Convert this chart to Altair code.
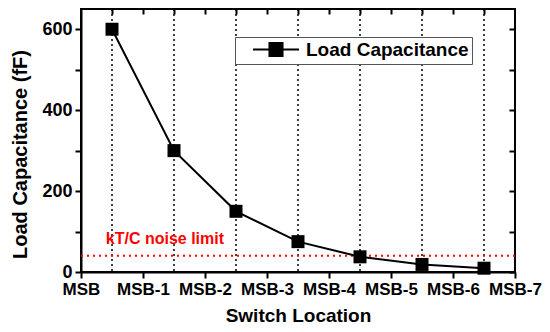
import altair as alt
import pandas as pd

# data
positions = [0.5, 1.5, 2.5, 3.5, 4.5, 5.5, 6.5]
capacitance = [600, 300, 150, 75, 37.5, 18.75, 9.4]
series_name = "Load Capacitance"
noise_limit = [40]
tick_values = [0, 1, 2, 3, 4, 5, 6, 7]
tick_labels = ["MSB", "MSB-1", "MSB-2", "MSB-3", "MSB-4", "MSB-5", "MSB-6", "MSB-7"]
y_ticks = [0, 100, 200, 300, 400, 500, 600]
top_ticks = [0.5, 1, 1.5, 2, 2.5, 3, 3.5, 4, 4.5, 5, 5.5, 6, 6.5]
note_text = ["kT/C noise limit"]
note_pos = [(0.4, 82)]

FONT = "Liberation Sans"
W, H = 434, 263

df = pd.DataFrame({"pos": positions, "cap": capacitance, "series": series_name})
df_lim = pd.DataFrame({"limit": noise_limit})
df_note = pd.DataFrame({"x": [p[0] for p in note_pos], "y": [p[1] for p in note_pos], "t": note_text})
df_top = pd.DataFrame({"x": top_ticks, "y": [300] * len(top_ticks)})

xscale = alt.Scale(domain=[0, 7], nice=False, zero=False)
yscale = alt.Scale(domain=[0, 650], nice=False)

label_map = "{" + ",".join(f"'{v}':'{l}'" for v, l in zip(tick_values, tick_labels)) + "}"

bottom_axis = alt.Axis(
    values=tick_values,
    labelExpr=f"{label_map}[datum.value]",
    labelOverlap=False,
    labelFlush=False,
    labelFontSize=17,
    title="Switch Location",
    titleFontSize=19,
    orient="bottom",
    tickSize=6,
    labelPadding=3,
    titlePadding=9,
)
left_axis = alt.Axis(
    values=y_ticks,
    labelExpr="datum.value % 200 == 0 ? datum.label : ''",
    labelOverlap=False,
    labelFlush=False,
    labelFontSize=18,
    title="Load Capacitance (fF)",
    titleFontSize=20,
    titleY=145,
    orient="left",
    tickSize=6,
    labelPadding=3,
    titlePadding=11,
)

vrules = alt.Chart(df).mark_rule(
    color="black", strokeDash=[2, 3], strokeWidth=1.5
).encode(x=alt.X("pos:Q", scale=xscale, axis=bottom_axis))

limit_rule = alt.Chart(df_lim).mark_rule(
    color="#ff0000", strokeDash=[2, 4], strokeWidth=2
).encode(y=alt.Y("limit:Q", scale=yscale, axis=left_axis))

line = alt.Chart(df).mark_line(color="black", strokeWidth=2).encode(
    x=alt.X("pos:Q", scale=xscale, axis=None),
    y=alt.Y("cap:Q", scale=yscale, axis=None),
    color=alt.Color(
        "series:N",
        scale=alt.Scale(range=["black"]),
        legend=alt.Legend(
            title=None,
            orient="none",
            legendX=154,
            legendY=28,
            direction="vertical",
            strokeColor="#555",
            fillColor="white",
            padding=3,
            labelFont=FONT,
            labelFontSize=19,
            labelFontWeight="bold",
            labelColor="black",
            labelOffset=49,
            labelLimit=400,
            symbolType="M0.73,0H2.93M4.67,0H6.87M2.93,-0.87H4.67V0.87H2.93Z",
            symbolSize=225,
            symbolStrokeWidth=2,
            symbolFillColor="black",
            symbolStrokeColor="black",
        ),
    ),
)

points = alt.Chart(df).mark_square(size=169, color="black", opacity=1, filled=True).encode(
    x=alt.X("pos:Q", scale=xscale, axis=None),
    y=alt.Y("cap:Q", scale=yscale, axis=None),
)

note = alt.Chart(df_note).mark_text(
    color="#ff0000", font=FONT, fontSize=16, fontWeight="bold", align="left", baseline="middle"
).encode(
    x=alt.X("x:Q", scale=xscale, axis=None),
    y=alt.Y("y:Q", scale=yscale, axis=None),
    text="t:N",
)

extra_axes = alt.Chart(df_top).mark_point(opacity=0).encode(
    x=alt.X("x:Q", scale=xscale, axis=alt.Axis(
        orient="top", values=top_ticks, labels=False, title=None, domain=False,
        tickSize=5, offset=-5)),
    y=alt.Y("y:Q", scale=yscale, axis=alt.Axis(
        orient="right", values=y_ticks, labels=False, title=None, domain=False,
        tickSize=6, offset=-6)),
)

chart = (
    alt.layer(vrules, limit_rule, line, points, note, extra_axes)
    .resolve_axis(x="independent", y="independent")
    .properties(
        width=W,
        height=H,
        autosize=alt.AutoSizeParams(type="none"),
        padding={"left": 73, "top": 1, "right": 27, "bottom": 52},
    )
    .configure_view(stroke="black", strokeWidth=2)
    .configure_axis(
        grid=False,
        domainColor="black",
        domainWidth=2,
        tickColor="black",
        tickWidth=2,
        labelFont=FONT,
        labelFontWeight="bold",
        labelColor="black",
        titleFont=FONT,
        titleFontWeight="bold",
        titleColor="black",
    )
)

chart.save("out.html", embed_options={"renderer": "svg", "actions": False})
